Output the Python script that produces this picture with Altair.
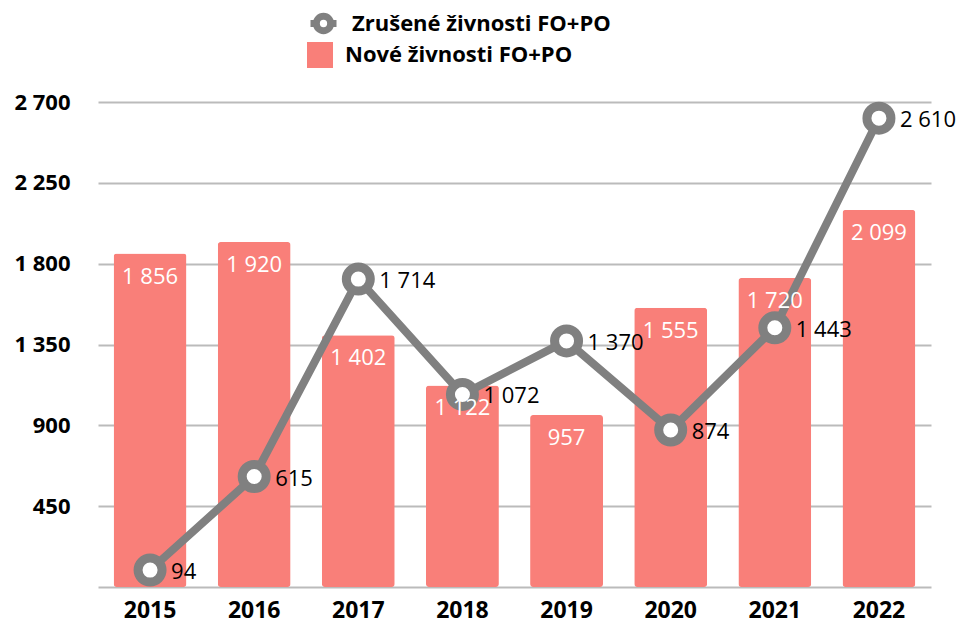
import altair as alt
import pandas as pd

years = ["2015", "2016", "2017", "2018", "2019", "2020", "2021", "2022"]
nove = [1856, 1920, 1402, 1122, 957, 1555, 1720, 2099]
zrusene = [94, 615, 1714, 1072, 1370, 874, 1443, 2610]

NAME_Z = "Zrušené živnosti FO+PO"
NAME_N = "Nové živnosti FO+PO"

def fmt(v):
    return f"{v:,}".replace(",", " ")

df = pd.DataFrame({
    "rok": years,
    "nove": nove,
    "zrusene": zrusene,
    "nove_lbl": [fmt(v) for v in nove],
    "zrusene_lbl": [fmt(v) for v in zrusene],
})

FONT = "Open Sans"
SALMON = "#F97F79"
GRAY = "#808080"

x = alt.X("rok:N", title=None, sort=years,
          scale=alt.Scale(paddingInner=0.3, paddingOuter=0.15),
          axis=alt.Axis(labelAngle=0, labelFontSize=23, labelFontWeight="bold",
                        labelColor="black", labelFont=FONT, labelPadding=12,
                        domain=False, ticks=False, grid=False))

yscale = alt.Scale(domain=[0, 2700], nice=False)
yaxis = alt.Axis(values=[0, 450, 900, 1350, 1800, 2250, 2700],
                 labelExpr="datum.value == 0 ? '' : replace(format(datum.value, ','), ',', ' ')",
                 labelFontSize=22, labelFontWeight="bold", labelColor="black",
                 labelFont=FONT, labelPadding=28, domain=False, ticks=False,
                 grid=True, gridColor="#BBBBBB", gridWidth=2, title=None)

base = alt.Chart(df)

bars = base.mark_bar(cornerRadius=3).encode(
    x=x,
    y=alt.Y("nove:Q", scale=yscale, axis=yaxis),
    fill=alt.Fill("n:N", scale=alt.Scale(domain=[NAME_N], range=[SALMON]),
                  legend=alt.Legend(orient="none", legendX=209, legendY=-60,
                                    title=None, symbolType="square", symbolSize=676,
                                    symbolStrokeWidth=0, labelFontSize=22,
                                    labelFontWeight="bold", labelFont=FONT,
                                    labelColor="black", labelOffset=12)),
).transform_calculate(n=f"'{NAME_N}'")

line = base.mark_line(color=GRAY, strokeWidth=8).encode(
    x=x, y=alt.Y("zrusene:Q", scale=yscale)
)

legend_path = "M-1,0H-0.55M0.55,0H1M-0.55,0A0.55,0.55 0 1,0 0.55,0A0.55,0.55 0 1,0 -0.55,0Z"

points = base.mark_point(filled=False, fill="white", size=576, strokeWidth=9,
                         opacity=1, fillOpacity=1, shape="circle").encode(
    x=x, y=alt.Y("zrusene:Q", scale=yscale),
    stroke=alt.Stroke("z:N", scale=alt.Scale(domain=[NAME_Z], range=[GRAY]),
                      legend=alt.Legend(orient="none", legendX=209, legendY=-95,
                                        title=None, symbolType=legend_path,
                                        symbolSize=676, symbolStrokeWidth=7,
                                        symbolFillColor="white",
                                        labelFontSize=22, labelFontWeight="bold",
                                        labelFont=FONT, labelColor="black",
                                        labelOffset=12)),
).transform_calculate(z=f"'{NAME_Z}'")

bar_labels = base.mark_text(color="white", fontSize=22, font=FONT, dy=23,
                            baseline="middle").encode(
    x=x, y=alt.Y("nove:Q", scale=yscale), text="nove_lbl:N"
)

line_labels = base.mark_text(color="black", fontSize=22, font=FONT, dx=21, dy=2,
                             align="left", baseline="middle").encode(
    x=x, y=alt.Y("zrusene:Q", scale=yscale), text="zrusene_lbl:N"
)

chart = alt.layer(bars, line, points, bar_labels, line_labels).resolve_legend(
    fill="independent", stroke="independent"
).properties(
    width=833, height=485,
    autosize=alt.AutoSizeParams(type="none"),
    padding={"left": 90, "top": 94, "right": 26, "bottom": 36},
).configure_view(stroke=None).configure_legend(labelLimit=400)

chart.save("out.html", embed_options={"renderer": "svg", "actions": False})
